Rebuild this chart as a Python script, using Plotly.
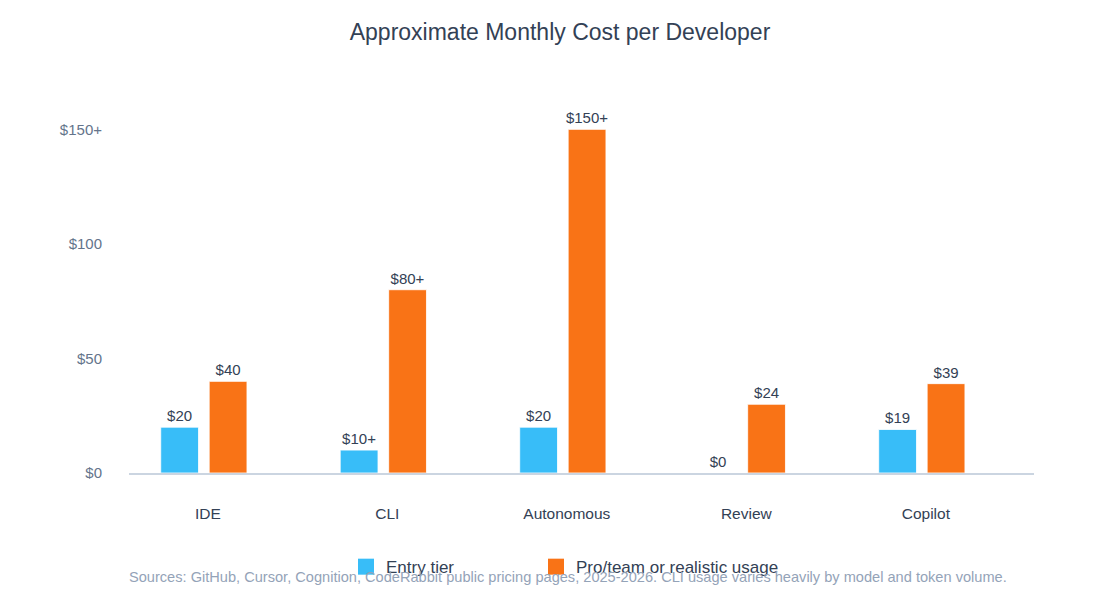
import plotly.graph_objects as go

categories = ["IDE", "CLI", "Autonomous", "Review", "Copilot"]
entry_values = [20, 10, 20, 0, 19]
entry_labels = ["$20", "$10+", "$20", "$0", "$19"]
pro_values = [40, 80, 150, 30, 39]
pro_labels = ["$40", "$80+", "$150+", "$24", "$39"]
y_tick_vals = [0, 50, 100, 150]
y_tick_text = ["$0", "$50", "$100", "$150+"]

FONT = "Liberation Sans, Arial, sans-serif"
BLUE = "#38bdf8"
ORANGE = "#f97316"

fig = go.Figure()
fig.add_trace(go.Bar(
    x=categories, y=entry_values, name="Entry tier",
    marker=dict(color=BLUE, line=dict(color="rgba(255,255,255,0.8)", width=1)),
    text=entry_labels, textposition="outside", cliponaxis=False, constraintext="none",
    textfont=dict(size=15, color="#334155", family=FONT),
    showlegend=False,
))
fig.add_trace(go.Bar(
    x=categories, y=pro_values, name="Pro/team or realistic usage",
    marker=dict(color=ORANGE, line=dict(color="rgba(255,255,255,0.8)", width=1)),
    text=pro_labels, textposition="outside", cliponaxis=False, constraintext="none",
    textfont=dict(size=15, color="#334155", family=FONT),
    showlegend=False,
))
# legend entries with larger square swatches
fig.add_trace(go.Scatter(
    x=[None], y=[None], mode="markers", name="Entry tier", legend="legend",
    marker=dict(symbol="square", size=20, color=BLUE),
))
fig.add_trace(go.Scatter(
    x=[None], y=[None], mode="markers", name="Pro/team or realistic usage", legend="legend2",
    marker=dict(symbol="square", size=20, color=ORANGE),
))

legend_common = dict(orientation="h", xanchor="left", y=-0.249, yanchor="middle",
                     font=dict(size=17, color="#334155", family=FONT),
                     bgcolor="rgba(0,0,0,0)")

fig.update_layout(
    width=1120, height=603,
    paper_bgcolor="white", plot_bgcolor="white",
    font=dict(family=FONT, color="#334155"),
    title=dict(text="Approximate Monthly Cost per Developer", x=0.5, xanchor="center",
               y=0.947, yanchor="middle",
               font=dict(size=23, color="#334155", family=FONT)),
    margin=dict(l=129, r=86, t=95, b=130),
    barmode="group", bargap=0.46, bargroupgap=0.22,
    legend=dict(x=0.2398, **legend_common),
    legend2=dict(x=0.4497, **legend_common),
    annotations=[dict(
        text="Sources: GitHub, Cursor, Cognition, CodeRabbit public pricing pages, 2025-2026. CLI usage varies heavily by model and token volume.",
        xref="paper", yref="paper", x=0.485, y=-0.275, xanchor="center", yanchor="middle",
        showarrow=False, font=dict(size=14.6, color="#94a3b8", family=FONT),
    )],
)
fig.update_xaxes(
    type="category", range=[-0.417, 4.625],
    showline=True, linecolor="#cbd5e1", linewidth=1.5,
    showgrid=False, ticks="", zeroline=False,
    tickfont=dict(size=15.5, color="#334155", family=FONT),
    ticklabelstandoff=26, ticklabelshift=4,
)
fig.update_yaxes(
    range=[0, 165], tickvals=y_tick_vals, ticktext=y_tick_text,
    showgrid=False, zeroline=False, showline=False, ticks="",
    tickfont=dict(size=15, color="#64748b", family=FONT),
    ticklabelstandoff=26,
)

fig.write_html("out.html")
